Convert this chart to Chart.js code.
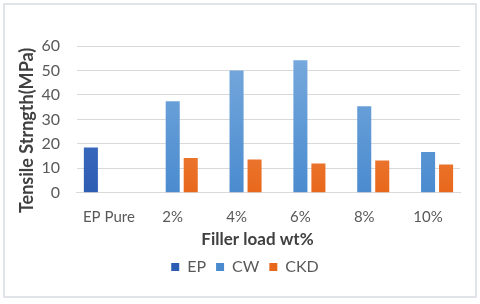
<!DOCTYPE html>
<html>
<head>
<meta charset="utf-8">
<script src="https://cdn.jsdelivr.net/npm/chart.js@4"></script>
<style>
  body { margin: 0; background: #fff; }
  #wrap { position: relative; width: 480px; height: 304px; }
  #frame { position: absolute; left: 3px; top: 3px; width: 474px; height: 295px;
           border: 2px solid #e1e5ea; box-sizing: border-box; pointer-events: none; }
</style>
</head>
<body>
<div id="wrap">
  <canvas id="chart" width="480" height="304"></canvas>
  <div id="frame"></div>
</div>
<script>
// Data
const categories = ['EP Pure', '2%', '4%', '6%', '8%', '10%'];
const epValues  = [18.5, null, null, null, null, null];
const cwValues  = [null, 37.4, 50.0, 54.2, 35.4, 16.7];
const ckdValues = [null, 14.2, 13.6, 12.0, 13.2, 11.6];
const yTicks = [0, 10, 20, 30, 40, 50, 60];
const xTitle = 'Filler load wt%';
const yTitle = 'Tensile Strngth(MPa)';

// Gradien vertikal ala Excel
function grad(top, bottom) {
    return (ctx) => {
        const area = ctx.chart.chartArea;
        if (!area) return bottom;
        const g = ctx.chart.ctx.createLinearGradient(0, area.top, 0, area.bottom);
        g.addColorStop(0, top);
        g.addColorStop(1, bottom);
        return g;
    };
}

const font = "Lato, 'Open Sans', sans-serif";

// Judul sumbu digambar manual biar posisinya mirip Excel (agak geser)
const axisTitles = {
    id: 'axisTitles',
    afterDraw(chart) {
        const { ctx, chartArea } = chart;
        ctx.save();
        ctx.fillStyle = '#404040';
        ctx.textAlign = 'center';
        ctx.textBaseline = 'middle';
        ctx.font = `bold 17px ${font}`;
        ctx.fillText(xTitle, (chartArea.left + chartArea.right) / 2 - 11, 240);
        ctx.translate(27, (chartArea.top + chartArea.bottom) / 2 + 11);
        ctx.rotate(-Math.PI / 2);
        ctx.font = `bold 18px ${font}`;
        ctx.fillText(yTitle, 0, 0);
        ctx.restore();
    }
};

new Chart(document.getElementById('chart').getContext('2d'), {
    type: 'bar',
    data: {
        labels: categories,
        datasets: [
            { label: 'EP',  data: epValues,  backgroundColor: grad('#4f7fcc', '#2d5cb3') },
            { label: 'CW',  data: cwValues,  backgroundColor: grad('#7aabdd', '#4a8bcf') },
            { label: 'CKD', data: ckdValues, backgroundColor: grad('#f29a66', '#e8681b') }
        ]
    },
    plugins: [axisTitles],
    options: {
        responsive: false, animation: false,
        categoryPercentage: 0.846, barPercentage: 0.78,
        layout: { padding: { left: 30, right: 20, top: 46, bottom: 19 } },
        plugins: {
            legend: {
                position: 'bottom',
                labels: { boxWidth: 8, boxHeight: 8, padding: 10, color: '#595959', font: { family: font, size: 16 } }
            },
            tooltip: { enabled: false }
        },
        scales: {
            x: {
                grid: { display: false, drawTicks: false },
                border: { color: '#d9d9d9' },
                ticks: { color: '#595959', padding: 15, font: { family: font, size: 15 } },
                // cuma buat ruang, teksnya digambar plugin
                title: { display: true, text: xTitle, color: 'rgba(0,0,0,0)', padding: { top: -11, bottom: 0 },
                         font: { family: font, size: 16, weight: 'bold' } }
            },
            y: {
                min: 0, max: 60,
                afterBuildTicks: (axis) => { axis.ticks = yTicks.map(v => ({ value: v })); },
                grid: { color: '#d9d9d9', drawTicks: false },
                border: { display: false },
                ticks: { color: '#595959', padding: 17, font: { family: font, size: 16 } },
                title: { display: true, text: yTitle, color: 'rgba(0,0,0,0)', padding: { top: -14, bottom: -12 },
                         font: { family: font, size: 17, weight: 'bold' } }
            }
        }
    }
});
</script>
</body>
</html>
